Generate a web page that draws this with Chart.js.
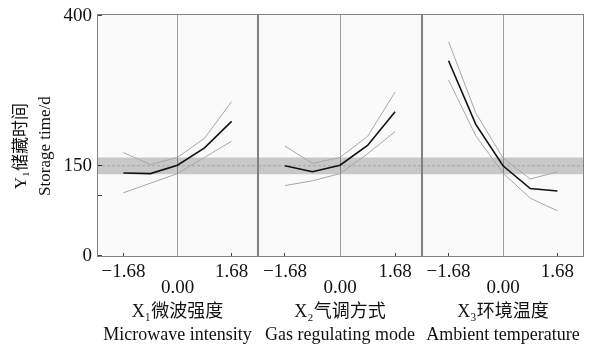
<!DOCTYPE html>
<html>
<head>
<meta charset="utf-8">
<script src="https://cdn.jsdelivr.net/npm/chart.js@4/dist/chart.umd.min.js"></script>
<style>
  body { margin: 0; background: #fff; }
  #wrap { position: relative; width: 605px; height: 347px; }
  #wrap canvas { position: absolute; left: 0; top: 0; }
</style>
</head>
<body>
<div id="wrap">
  <canvas id="panel1" width="605" height="347"></canvas>
  <canvas id="panel2" width="605" height="347"></canvas>
  <canvas id="panel3" width="605" height="347"></canvas>
</div>
<script>
// coded factor levels where the curves are read
const levels = [-1.68, -0.84, 0, 0.84, 1.68];

// X1 microwave intensity
const x1Fit   = [138, 137, 151, 180, 224];
const x1Upper = [172, 152, 164, 196, 257];
const x1Lower = [105, 121, 137, 164, 191];
// X2 gas regulating mode
const x2Fit   = [150, 140, 151, 184, 240];
const x2Upper = [183, 154, 164, 199, 273];
const x2Lower = [117, 125, 137, 170, 207];
// X3 ambient temperature
const x3Fit   = [325, 219, 150, 112, 108];
const x3Upper = [357, 238, 163, 128, 140];
const x3Lower = [293, 200, 138, 96, 75];

// horizontal reference band
const bandLow = 136;
const bandMid = 150;
const bandHigh = 164;

const xTicks = [-1.68, 0, 1.68];
const yTicks = [0, 100, 150, 400];
const yTitle = ['Y\u2081储藏时间     ', 'Storage time/d     '];
const xTitles = [
  ['X\u2081微波强度', 'Microwave intensity'],
  ['X\u2082气调方式', 'Gas regulating mode'],
  ['X\u2083环境温度', 'Ambient temperature']
];

const serif = "'Liberation Serif', 'Times New Roman', 'Noto Sans CJK SC', serif";

const panelFrame = {
  id: 'panelFrame',
  beforeDraw(chart) {
    const { ctx, chartArea: a } = chart;
    ctx.save();
    ctx.fillStyle = '#fafafa';
    ctx.fillRect(a.left, a.top, a.width, a.height);
    ctx.restore();
  },
  afterDraw(chart) {
    const { ctx, chartArea: a } = chart;
    ctx.save();
    ctx.strokeStyle = '#808080';
    ctx.lineWidth = 1;
    ctx.strokeRect(Math.round(a.left) + 0.5, Math.round(a.top) + 0.5,
      Math.round(a.width) - 1, Math.round(a.height) - 1);
    ctx.restore();
  }
};

function pts(vals) {
  return vals.map((v, i) => ({ x: levels[i], y: v }));
}
function flat(v) {
  return [{ x: -2.5, y: v }, { x: 2.5, y: v }];
}

function makePanel(id, fit, upper, lower, title, withY, padLeft, padRight) {
  return new Chart(document.getElementById(id), {
    type: 'line',
    data: {
      datasets: [
        { data: pts(fit), borderColor: '#111', borderWidth: 1.6 },
        { data: pts(upper), borderColor: '#a8a8a8', borderWidth: 1 },
        { data: pts(lower), borderColor: '#a8a8a8', borderWidth: 1 },
        { data: flat(bandMid), borderColor: 'rgba(0,0,0,0.18)', borderWidth: 1, borderDash: [3, 2] },
        { data: flat(bandHigh), borderWidth: 0, borderColor: 'rgba(0,0,0,0)', fill: '+1', backgroundColor: 'rgba(0,0,0,0.2)' },
        { data: flat(bandLow), borderWidth: 0, borderColor: 'rgba(0,0,0,0)' }
      ]
    },
    options: {
      responsive: false,
      animation: false,
      layout: { padding: { left: padLeft, right: padRight, top: 14, bottom: 0 } },
      elements: { point: { radius: 0 }, line: { tension: 0 } },
      plugins: { legend: { display: false }, tooltip: { enabled: false } },
      scales: {
        x: {
          type: 'linear', min: -2.5, max: 2.5,
          afterBuildTicks: s => { s.ticks = xTicks.map(v => ({ value: v })); },
          afterFit: s => { s.height = 90; s.paddingLeft = 0; s.paddingRight = 0; },
          border: { display: false },
          grid: {
            color: c => (c.tick && c.tick.value === 0) ? '#a0a0a0' : 'rgba(0,0,0,0)',
            tickColor: c => (c.tick && c.tick.value === 0) ? 'rgba(0,0,0,0)' : '#444',
            tickLength: -4
          },
          ticks: {
            autoSkip: false, maxRotation: 0, padding: 11, color: '#111',
            font: { family: serif, size: 19, lineHeight: 16 / 19 },
            callback: v => v === 0 ? ['', '0.00'] : (v < 0 ? '\u2212' : '') + Math.abs(v).toFixed(2)
          },
          title: {
            display: true, text: title, color: '#111',
            font: { family: serif, size: 18, lineHeight: 1.28 },
            padding: { top: 0, bottom: 0 }
          }
        },
        y: {
          display: withY,
          min: -2, max: 403,
          afterBuildTicks: s => { s.ticks = yTicks.map(v => ({ value: v })); },
          afterFit: s => { s.width = withY ? 97 : 0; s.paddingTop = 0; s.paddingBottom = 0; },
          border: { display: false },
          grid: { drawOnChartArea: false, tickLength: -5, tickColor: '#444' },
          ticks: {
            padding: 10, color: '#111',
            font: { family: serif, size: 19 },
            callback: v => v === 100 ? '' : String(v)
          },
          title: {
            display: true, text: yTitle, color: '#111',
            font: { family: serif, size: 17, lineHeight: 24 / 17 },
            padding: { top: 10, bottom: 0 }
          }
        }
      }
    },
    plugins: [panelFrame]
  });
}

makePanel('panel1', x1Fit, x1Upper, x1Lower, xTitles[0], true, 0, 347);
makePanel('panel2', x2Fit, x2Upper, x2Lower, xTitles[1], false, 258, 183);
makePanel('panel3', x3Fit, x3Upper, x3Lower, xTitles[2], false, 422, 21);
</script>
</body>
</html>
